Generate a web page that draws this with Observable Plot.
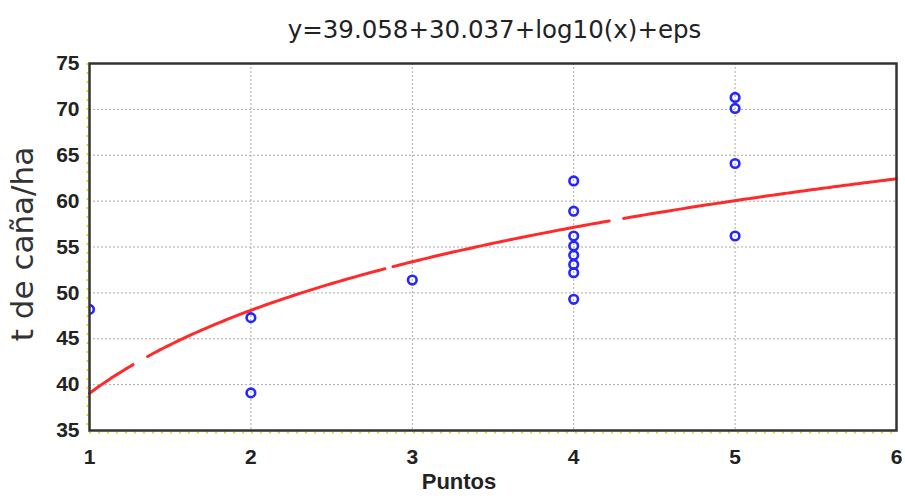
<!DOCTYPE html>
<html>
<head>
<meta charset="utf-8">
<script src="https://cdn.jsdelivr.net/npm/d3@7"></script>
<script src="https://cdn.jsdelivr.net/npm/@observablehq/plot@0.6"></script>
<style>
  html, body { margin: 0; padding: 0; background: #fff; }
  #wrap { width: 905px; height: 499px; position: relative; overflow: hidden; }
  #title { height: 48px; width: 905px; text-align: center; font-family: "DejaVu Sans", sans-serif;
           font-size: 24.5px; color: #222; line-height: 58px; white-space: nowrap; }
  #title span { position: relative; left: 42px; top: 1px; }
</style>
</head>
<body>
<div id="wrap">
  <div id="title"><span>y=39.058+30.037+log10(x)+eps</span></div>
  <div id="chart"></div>
</div>
<script>
// Observed points
const pointX = [1, 2, 2, 3, 4, 4, 4, 4, 4, 4, 4, 4, 5, 5, 5, 5];
const pointY = [48.2, 47.3, 39.1, 51.4, 62.2, 58.9, 56.2, 55.1, 54.1, 53.1, 52.2, 49.3, 71.3, 70.1, 64.1, 56.2];

// Fitted model from the title: y = a + b*log10(x)
const coefA = 39.058;
const coefB = 30.037;
// Visible pieces of the fitted curve (the reference line has small breaks)
const curveSegments = [[1, 1.27], [1.36, 2.83], [2.88, 4.22], [4.31, 6]];

// Axis ticks
const xTicks = [1, 2, 3, 4, 5, 6];
const yTicks = [35, 40, 45, 50, 55, 60, 65, 70, 75];
const xGrid = [2, 3, 4, 5];
const yGrid = [40, 45, 50, 55, 60, 65, 70];

const points = pointX.map((x, i) => ({x, y: pointY[i]}));
const curve = [];
curveSegments.forEach(([x0, x1], s) => {
  const n = Math.max(2, Math.round((x1 - x0) / 0.02));
  for (let k = 0; k <= n; k++) {
    const x = x0 + (x1 - x0) * k / n;
    curve.push({x, y: coefA + coefB * Math.log10(x), seg: s});
  }
});

const chart = Plot.plot({
  width: 905,
  height: 451,
  marginTop: 15,
  marginBottom: 69,
  marginLeft: 89,
  marginRight: 9,
  style: {background: "#fff", fontFamily: "'Liberation Sans', Arial, sans-serif"},
  x: {domain: [1, 6]},
  y: {domain: [35, 75]},
  marks: [
    Plot.ruleY(yGrid, {stroke: "#aaa", strokeWidth: 1, strokeDasharray: "2,2"}),
    Plot.ruleX(xGrid, {stroke: "#aaa", strokeWidth: 1, strokeDasharray: "2,2"}),
    Plot.ruleX([1], {stroke: "#e6e000", strokeWidth: 2, strokeDasharray: "2,7", dx: -2}),
    Plot.ruleY([35], {stroke: "#e6e000", strokeWidth: 2, strokeDasharray: "2,7", dy: 2}),
    Plot.line(curve, {x: "x", y: "y", z: "seg", stroke: "#ff2a2a", strokeWidth: 3}),
    Plot.dot(points, {x: "x", y: "y", r: 4.3, stroke: "#2626ff", strokeWidth: 2.6, fill: "none", clip: true}),
    Plot.frame({stroke: "#333", strokeWidth: 2.5}),
    Plot.axisX({ticks: xTicks, tickSize: 0, tickPadding: 19, tickFormat: d3.format("d"),
      fontSize: 21, fontWeight: "bold", fill: "#222", label: null}),
    Plot.axisY({ticks: yTicks, tickSize: 0, tickPadding: 10, tickFormat: d3.format("d"),
      fontSize: 21, fontWeight: "bold", fill: "#222", label: null}),
    Plot.text(["Puntos"], {frameAnchor: "bottom", dx: -34, dy: 58, fontSize: 22, fontWeight: "bold", fill: "#222"}),
    Plot.text(["t de caña/ha"], {frameAnchor: "left", textAnchor: "middle", dx: -66, dy: -3, rotate: -90, fontSize: 31,
      fontFamily: "DejaVu Sans", fill: "#333"})
  ]
});
document.getElementById("chart").appendChild(chart);
</script>
</body>
</html>
